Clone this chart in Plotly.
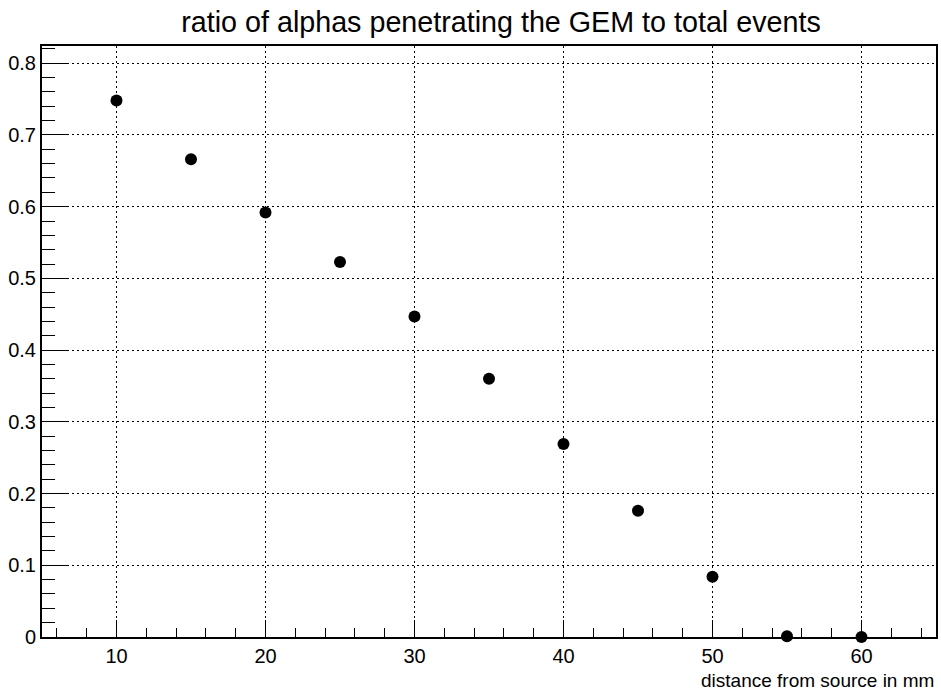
import plotly.graph_objects as go

# distance from the source (mm) and the fraction of alphas that get through the GEM
distance_mm = [10, 15, 20, 25, 30, 35, 40, 45, 50, 55, 60]
penetration_ratio = [0.748, 0.666, 0.592, 0.523, 0.447, 0.360, 0.269, 0.176, 0.084, 0.001, 0.0]

title_text = "ratio of alphas penetrating the GEM to total events"
x_title_text = "distance from source in mm"

FONT = "Liberation Sans, Arial, Helvetica, sans-serif"

fig = go.Figure(
    go.Scatter(
        x=distance_mm,
        y=penetration_ratio,
        mode="markers",
        marker=dict(symbol="circle", size=12, color="black"),
        cliponaxis=False,
        showlegend=False,
    )
)

axis_common = dict(
    showline=True,
    linecolor="black",
    linewidth=2,
    mirror=True,
    ticks="inside",
    tickcolor="black",
    tickwidth=1,
    showgrid=True,
    gridcolor="black",
    gridwidth=1,
    griddash="2px,3px",
    zeroline=False,
    tickfont=dict(family=FONT, size=20, color="black"),
)

fig.update_xaxes(
    **axis_common,
    range=[5, 65],
    tick0=0,
    dtick=10,
    ticklen=17,
    minor=dict(dtick=2, tick0=0, ticks="inside", ticklen=9, tickcolor="black", showgrid=False),
)
fig.update_yaxes(
    **axis_common,
    range=[0, 0.824],
    tick0=0,
    dtick=0.1,
    ticklen=26,
    minor=dict(dtick=0.02, tick0=0, ticks="inside", ticklen=13, tickcolor="black", showgrid=False),
)

fig.update_layout(
    width=941,
    height=695,
    margin=dict(l=42, r=3, t=46, b=58),
    paper_bgcolor="white",
    plot_bgcolor="white",
    font=dict(family=FONT, color="black"),
    title=dict(
        text=title_text,
        font=dict(family=FONT, size=28.7, color="black"),
        xref="container",
        yref="container",
        x=501 / 941,
        xanchor="center",
        y=1 - 22 / 695,
        yanchor="middle",
    ),
    annotations=[
        dict(
            text=x_title_text,
            xref="paper",
            yref="paper",
            x=1,
            xanchor="right",
            y=-0.0733,
            yanchor="middle",
            showarrow=False,
            font=dict(family=FONT, size=19, color="black"),
        )
    ],
)

fig.write_html("out.html")
